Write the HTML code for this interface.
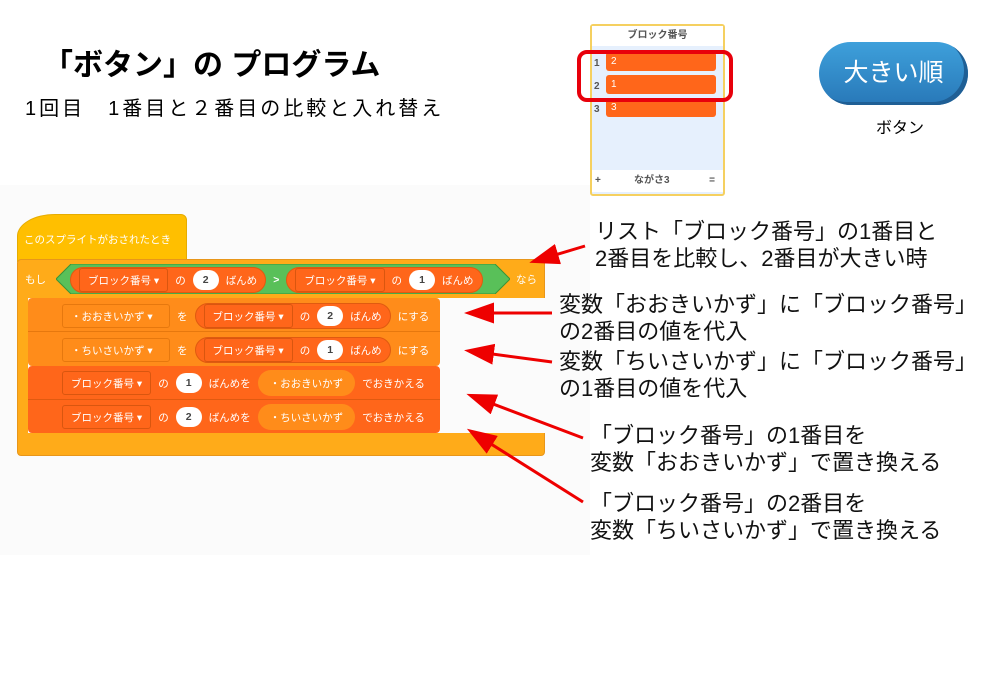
<!DOCTYPE html>
<html><head><meta charset="utf-8"><style>
body{margin:0;width:1000px;height:692px;background:#fff;position:relative;overflow:hidden;font-family:"Liberation Sans","Noto Sans CJK JP",sans-serif}
.a{position:absolute}
.t{position:absolute;font-size:22px;color:#111;white-space:nowrap;line-height:27px}
.row{position:absolute;display:flex;align-items:center;gap:7px;font-size:10.5px;color:#fff;white-space:nowrap}
.rep{background:#FF661A;border:1px solid #E05A10;border-radius:14px;height:24px;display:flex;align-items:center;gap:7px;padding:0 8px}
.dd{background:#FF661A;border:1px solid #D9560F;border-radius:3px;height:22px;display:flex;align-items:center;padding:0 8px}
.dd2{background:#FF8C1A;border:1px solid #E6780E;border-radius:3px;height:22px;display:flex;align-items:center;padding:0 8px}
.num{background:#fff;color:#444;border-radius:10px;width:26px;height:20px;display:flex;align-items:center;justify-content:center;font-weight:bold}
.var{background:#FF8C1A;border-radius:14px;height:26px;display:flex;align-items:center;padding:0 12px}
</style></head><body>
<div class="a" style="left:0;top:185px;width:590px;height:370px;background:#fbfbfb"></div>
<div class="a" style="left:43px;top:40px;font-size:30px;font-weight:bold;white-space:nowrap">「ボタン」の プログラム</div>
<div class="a" style="left:25px;top:92px;font-size:20px;letter-spacing:3px;white-space:nowrap">1回目　1番目と２番目の比較と入れ替え</div>

<!-- list monitor -->
<div class="a" style="left:590px;top:24px;width:131px;height:168px;border:2px solid #f5d060;background:#e6f0fd;border-radius:3px"></div>
<div class="a" style="left:592px;top:26px;width:131px;height:20px;background:#fff;font-size:10px;font-weight:bold;color:#555;text-align:center;line-height:20px">ブロック番号</div>
<div class="a" style="left:592px;top:170px;width:131px;height:22px;background:#fff;font-size:10px;font-weight:bold;color:#555;line-height:22px"><span style="position:absolute;left:3px">+</span><span style="position:absolute;left:42px">ながさ3</span><span style="position:absolute;right:8px">=</span></div>
<div class="a" style="left:594px;top:52px;font-size:10px;font-weight:bold;color:#555;line-height:23px">1<br>2<br>3</div>
<div class="a" style="left:606px;top:52px;width:110px;height:19px;background:#FF661A;border-radius:3px;color:#fff;font-size:10px;line-height:19px;padding-left:5px;box-sizing:border-box">2</div>
<div class="a" style="left:606px;top:75px;width:110px;height:19px;background:#FF661A;border-radius:3px;color:#fff;font-size:10px;line-height:19px;padding-left:5px;box-sizing:border-box">1</div>
<div class="a" style="left:606px;top:98px;width:110px;height:19px;background:#FF661A;border-radius:3px;color:#fff;font-size:10px;line-height:19px;padding-left:5px;box-sizing:border-box">3</div>
<div class="a" style="left:577px;top:50px;width:148px;height:44px;border:4px solid #e8000b;border-radius:10px"></div>

<!-- button -->
<div class="a" style="left:819px;top:42px;width:149px;height:63px;border-radius:32px;background:linear-gradient(#3ea0db,#2878b8);box-shadow:inset -4px -3px 0 #1f5f95;color:#fff;font-size:25px;text-align:center;line-height:63px">大きい順</div>
<div class="a" style="left:876px;top:114px;font-size:16px">ボタン</div>

<!-- blocks -->
<div class="a" style="left:17px;top:214px;width:168px;height:46px;background:#FFBF00;border-radius:38px 6px 0 0/22px 6px 0 0;border:1px solid #e6ac00"></div>
<div class="row" style="left:24px;top:232px">このスプライトがおされたとき</div>
<div class="a" style="left:17px;top:259px;width:528px;height:197px;background:#FFAB19;border-radius:4px;border:1px solid #e8961a;box-sizing:border-box"></div>
<div class="a" style="left:28px;top:298px;width:517px;height:135px;background:#fbfbfb"></div>
<svg class="a" style="left:56px;top:264px" width="454" height="30"><polygon points="0,15 15,0 439,0 454,15 439,30 15,30" fill="#59C059" stroke="#389438"/></svg>
<div class="row" style="left:25px;top:272px">もし</div>
<div class="row" style="left:70px;top:267px"><div class="rep" style="height:24px"><div class="dd">ブロック番号 ▾</div><span>の</span><div class="num">2</div><span>ばんめ</span></div><span style="font-weight:bold">&gt;</span><div class="rep"><div class="dd">ブロック番号 ▾</div><span>の</span><div class="num">1</div><span>ばんめ</span></div></div>
<div class="row" style="left:516px;top:272px">なら</div>

<div class="a" style="left:28px;top:298px;width:412px;height:68px;background:#FF8C1A;border-radius:4px"></div>
<div class="a" style="left:28px;top:331px;width:412px;height:1px;background:#e6780e"></div>
<div class="a" style="left:28px;top:366px;width:412px;height:67px;background:#FF661A;border-radius:4px"></div>
<div class="a" style="left:28px;top:399px;width:412px;height:1px;background:#e05a10"></div>

<div class="row" style="left:62px;top:303px"><div class="dd2" style="width:90px">・おおきいかず ▾</div><span>を</span><div class="rep" style="border-color:#e05a10"><div class="dd">ブロック番号 ▾</div><span>の</span><div class="num">2</div><span>ばんめ</span></div><span>にする</span></div>
<div class="row" style="left:62px;top:337px"><div class="dd2" style="width:90px">・ちいさいかず ▾</div><span>を</span><div class="rep"><div class="dd">ブロック番号 ▾</div><span>の</span><div class="num">1</div><span>ばんめ</span></div><span>にする</span></div>
<div class="row" style="left:62px;top:370px"><div class="dd">ブロック番号 ▾</div><span>の</span><div class="num">1</div><span>ばんめを</span><div class="var">・おおきいかず</div><span>でおきかえる</span></div>
<div class="row" style="left:62px;top:404px"><div class="dd">ブロック番号 ▾</div><span>の</span><div class="num">2</div><span>ばんめを</span><div class="var">・ちいさいかず</div><span>でおきかえる</span></div>

<!-- arrows -->
<svg class="a" style="left:0;top:0" width="1000" height="692">
<defs><marker id="m" markerWidth="10" markerHeight="7" refX="8" refY="3.5" orient="auto" markerUnits="strokeWidth"><path d="M0,0 L10,3.5 L0,7 z" fill="#e00"/></marker></defs>
<g stroke="#e00" stroke-width="3" fill="none" marker-end="url(#m)">
<line x1="585" y1="246" x2="535" y2="261"/>
<line x1="552" y1="313" x2="470" y2="313"/>
<line x1="552" y1="362" x2="470" y2="351"/>
<line x1="583" y1="438" x2="472" y2="396"/>
<line x1="583" y1="502" x2="472" y2="432"/>
</g></svg>

<div class="t" style="left:595px;top:218px">リスト「ブロック番号」の1番目と<br>2番目を比較し、2番目が大きい時</div>
<div class="t" style="left:559px;top:291px">変数「おおきいかず」に「ブロック番号」<br>の2番目の値を代入</div>
<div class="t" style="left:559px;top:348px">変数「ちいさいかず」に「ブロック番号」<br>の1番目の値を代入</div>
<div class="t" style="left:590px;top:422px">「ブロック番号」の1番目を<br>変数「おおきいかず」で置き換える</div>
<div class="t" style="left:590px;top:490px">「ブロック番号」の2番目を<br>変数「ちいさいかず」で置き換える</div>
</body></html>
